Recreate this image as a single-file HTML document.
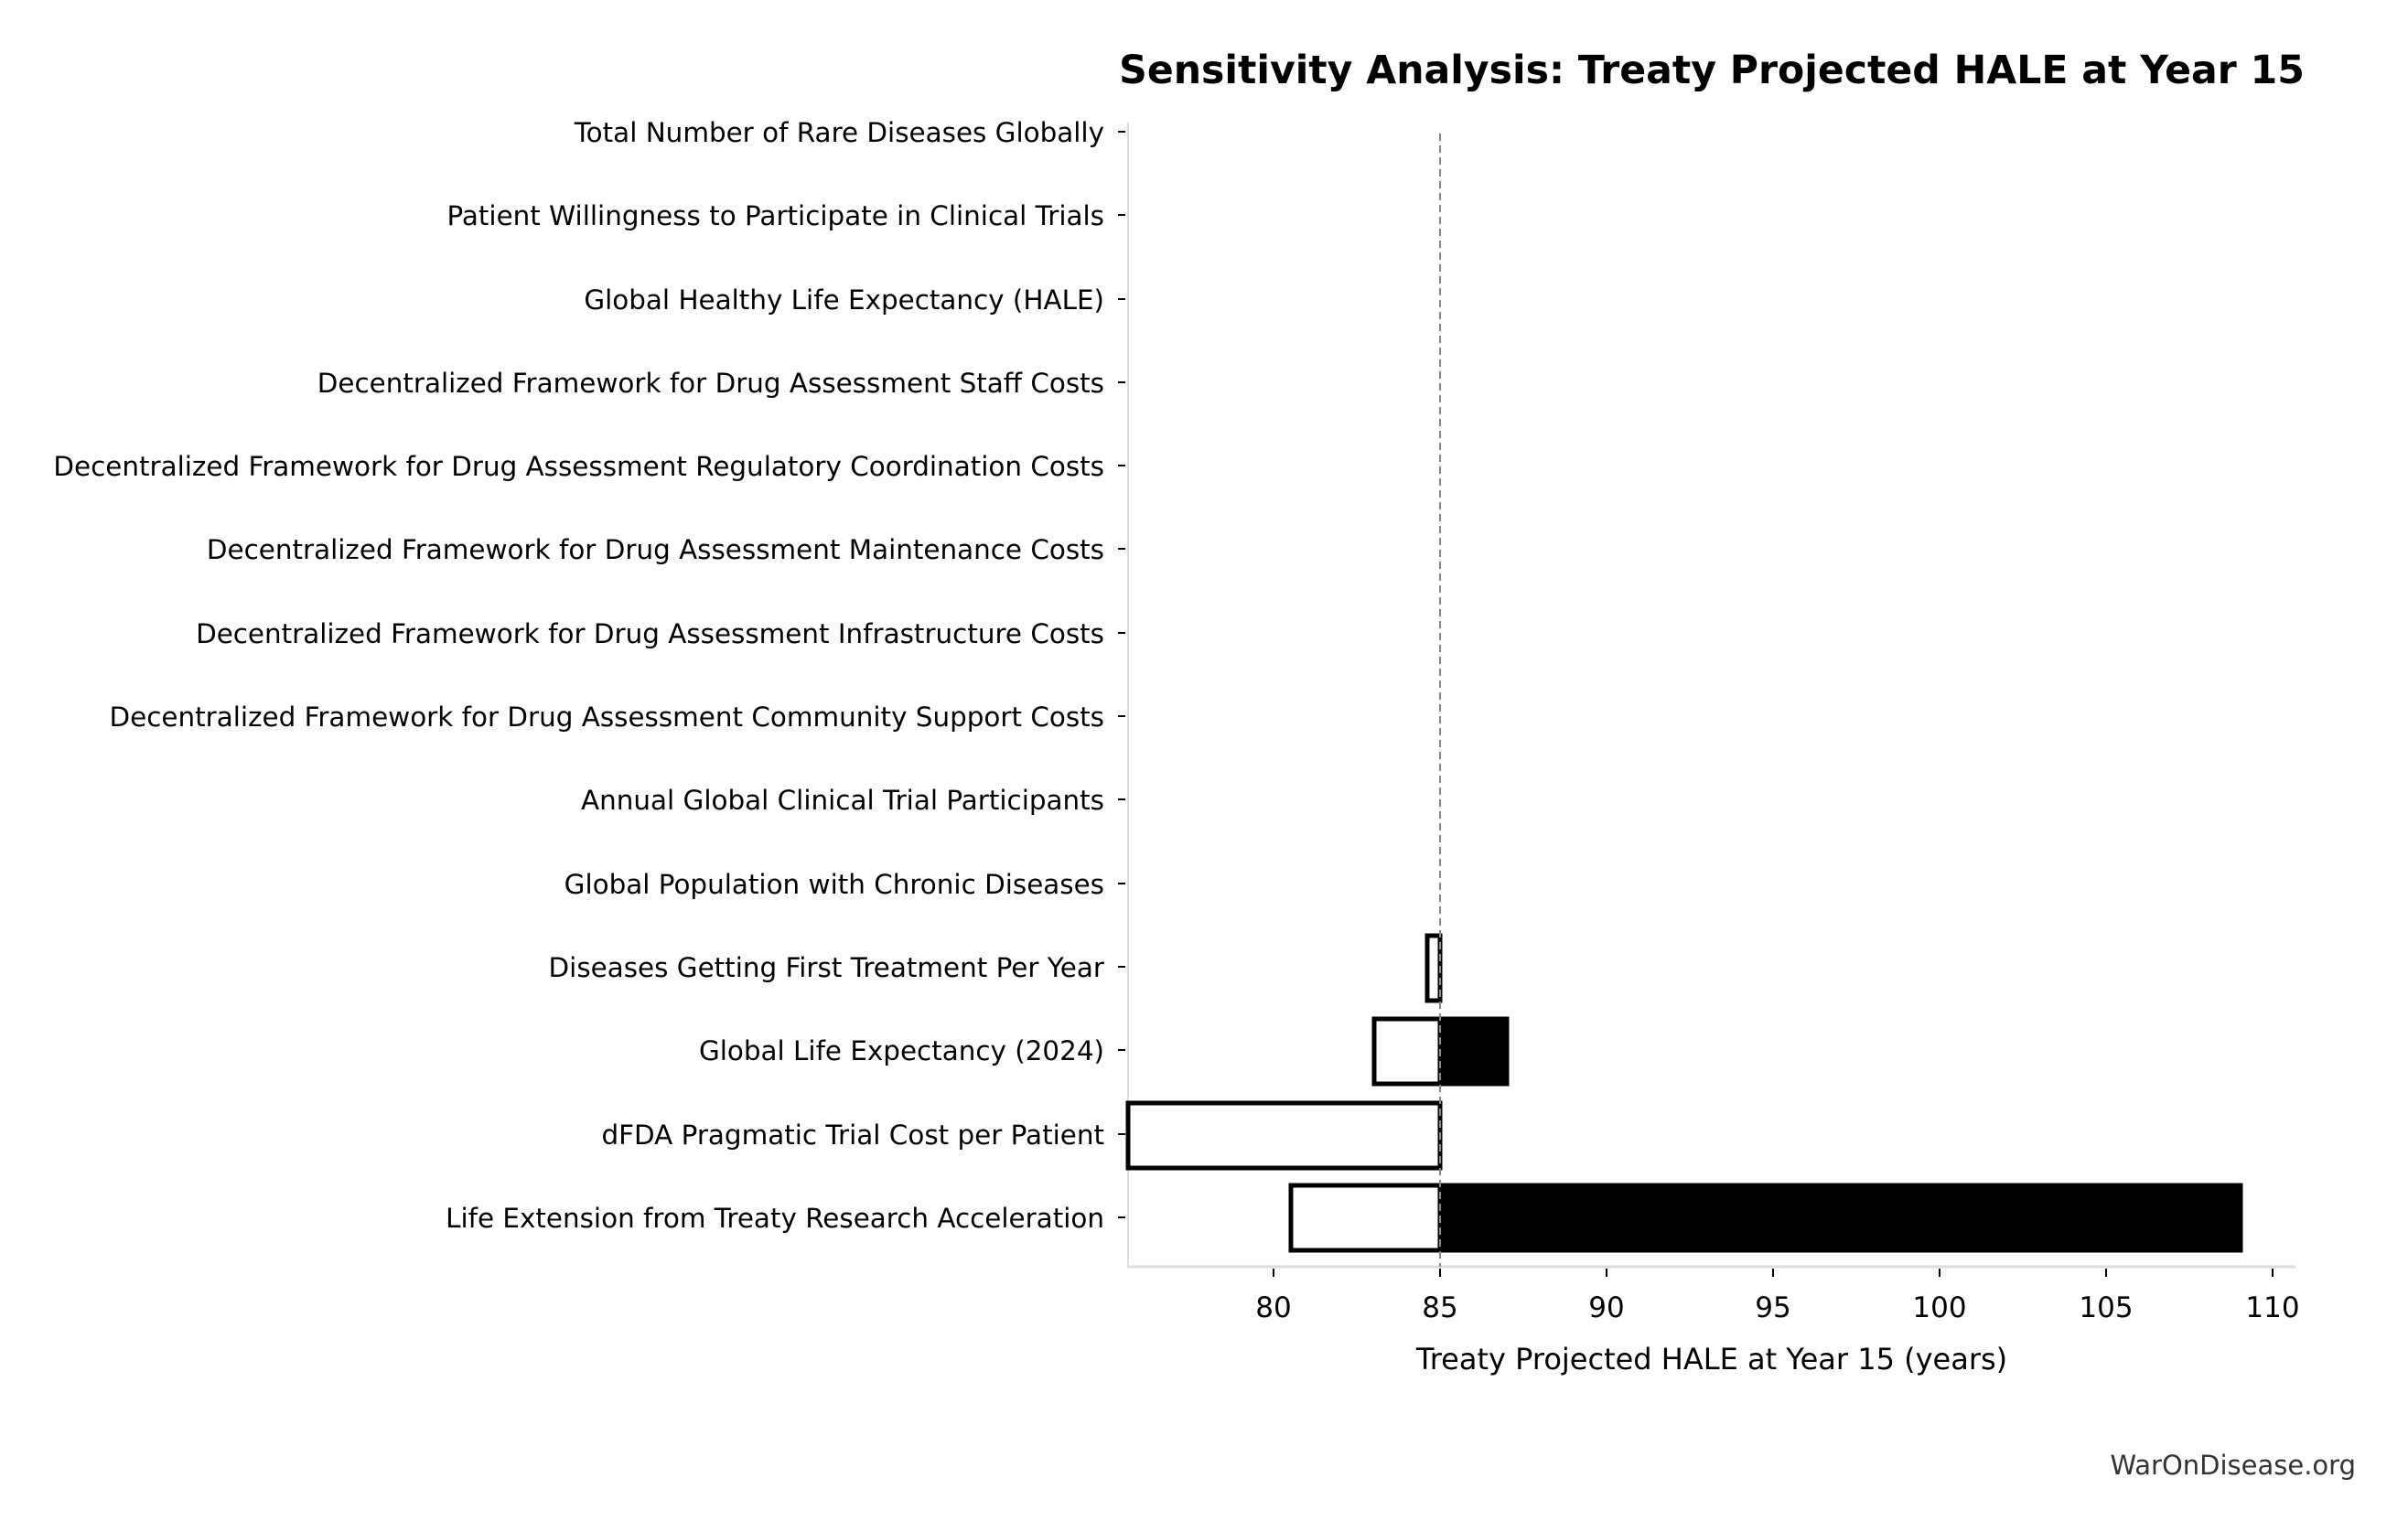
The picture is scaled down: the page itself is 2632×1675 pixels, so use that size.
<!DOCTYPE html>
<html><head><meta charset="utf-8"><style>
html,body{margin:0;padding:0;background:#fff;}
svg{display:block;font-family:"DejaVu Sans","Liberation Sans",sans-serif;}
</style></head><body>
<svg width="2632" height="1675" viewBox="0 0 2632 1675" xmlns="http://www.w3.org/2000/svg">
<rect width="2632" height="1675" fill="#fff"/>
<text x="1871" y="91" font-size="42.6" font-weight="bold" text-anchor="middle">Sensitivity Analysis: Treaty Projected HALE at Year 15</text>
<line x1="1233" y1="134" x2="1233" y2="1385" stroke="#ddd" stroke-width="2"/>
<line x1="1232" y1="1385" x2="2509" y2="1385" stroke="#ddd" stroke-width="3"/>
<g stroke="#000" stroke-width="5">
<rect x="1411" y="1296" width="163" height="71" fill="#fff"/>
<rect x="1574" y="1296" width="875" height="71" fill="#000"/>
<rect x="1233" y="1206" width="341" height="71" fill="#fff"/>
<rect x="1502" y="1114" width="72" height="71" fill="#fff"/>
<rect x="1574" y="1114" width="73" height="71" fill="#000"/>
<rect x="1560" y="1023" width="14" height="71" fill="#fff"/>
</g>
<line x1="1574" y1="146" x2="1574" y2="1385" stroke="#888" stroke-width="2" stroke-dasharray="8,5"/>
<g font-size="29.4" text-anchor="end" fill="#000">
<text x="1207" y="155">Total Number of Rare Diseases Globally</text>
<text x="1207" y="246">Patient Willingness to Participate in Clinical Trials</text>
<text x="1207" y="338">Global Healthy Life Expectancy (HALE)</text>
<text x="1207" y="429">Decentralized Framework for Drug Assessment Staff Costs</text>
<text x="1207" y="520">Decentralized Framework for Drug Assessment Regulatory Coordination Costs</text>
<text x="1207" y="611">Decentralized Framework for Drug Assessment Maintenance Costs</text>
<text x="1207" y="703">Decentralized Framework for Drug Assessment Infrastructure Costs</text>
<text x="1207" y="794">Decentralized Framework for Drug Assessment Community Support Costs</text>
<text x="1207" y="885">Annual Global Clinical Trial Participants</text>
<text x="1207" y="977">Global Population with Chronic Diseases</text>
<text x="1207" y="1068">Diseases Getting First Treatment Per Year</text>
<text x="1207" y="1159">Global Life Expectancy (2024)</text>
<text x="1207" y="1251">dFDA Pragmatic Trial Cost per Patient</text>
<text x="1207" y="1342">Life Extension from Treaty Research Acceleration</text>
</g>
<g stroke="#000" stroke-width="2">
<line x1="1222" y1="144" x2="1230" y2="144"/><line x1="1222" y1="235" x2="1230" y2="235"/>
<line x1="1222" y1="327" x2="1230" y2="327"/><line x1="1222" y1="418" x2="1230" y2="418"/>
<line x1="1222" y1="509" x2="1230" y2="509"/><line x1="1222" y1="600" x2="1230" y2="600"/>
<line x1="1222" y1="692" x2="1230" y2="692"/><line x1="1222" y1="783" x2="1230" y2="783"/>
<line x1="1222" y1="874" x2="1230" y2="874"/><line x1="1222" y1="966" x2="1230" y2="966"/>
<line x1="1222" y1="1057" x2="1230" y2="1057"/><line x1="1222" y1="1148" x2="1230" y2="1148"/>
<line x1="1222" y1="1240" x2="1230" y2="1240"/><line x1="1222" y1="1331" x2="1230" y2="1331"/>
</g>
<g stroke="#000" stroke-width="2">
<line x1="1392" y1="1387" x2="1392" y2="1396"/><line x1="1574" y1="1387" x2="1574" y2="1396"/>
<line x1="1756" y1="1387" x2="1756" y2="1396"/><line x1="1938" y1="1387" x2="1938" y2="1396"/>
<line x1="2120" y1="1387" x2="2120" y2="1396"/><line x1="2302" y1="1387" x2="2302" y2="1396"/>
<line x1="2484" y1="1387" x2="2484" y2="1396"/>
</g>
<g font-size="31" text-anchor="middle">
<text x="1392" y="1440">80</text><text x="1574" y="1440">85</text><text x="1756" y="1440">90</text>
<text x="1938" y="1440">95</text><text x="2120" y="1440">100</text><text x="2302" y="1440">105</text>
<text x="2484" y="1440">110</text>
</g>
<text x="1871" y="1497" font-size="32" text-anchor="middle">Treaty Projected HALE at Year 15 (years)</text>
<text x="2575" y="1612" font-size="29" text-anchor="end" fill="#333">WarOnDisease.org</text>
</svg>
</body></html>
